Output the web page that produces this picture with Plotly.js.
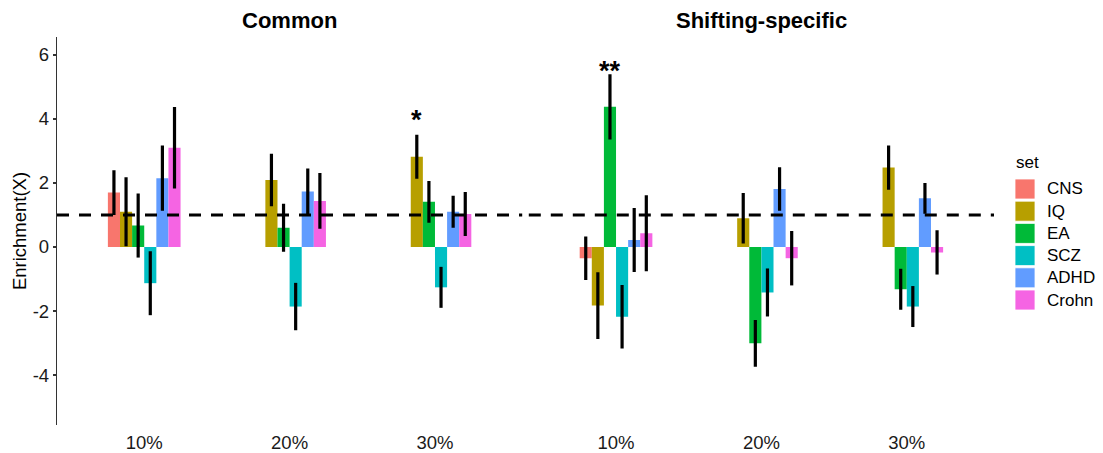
<!DOCTYPE html>
<html>
<head>
<meta charset="utf-8">
<script src="https://cdn.plot.ly/plotly-3.0.1.min.js"></script>
<style>html,body{margin:0;padding:0;background:#fff;}#chart{width:1103px;height:453px;}</style>
</head>
<body>
<div id="chart"></div>
<script>
const categories = ['10%', '20%', '30%'];
const panels = ['Common', 'Shifting-specific'];
const sets = ['CNS', 'IQ', 'EA', 'SCZ', 'ADHD', 'Crohn'];
const setColors = ['#F8766D', '#B79F00', '#00BA38', '#00BFC4', '#619CFF', '#F564E3'];

// values in order: Common 10/20/30%, Shifting-specific 10/20/30%
const CNS = [1.70, null, 0, -0.35, 0, null];
const CNS_err = [0.70, null, 0, 0.68, 0, null];
const IQ = [1.10, 2.09, 2.82, -1.83, 0.90, 2.48];
const IQ_err = [1.08, 0.82, 0.69, 1.04, 0.79, 0.69];
const EA = [0.67, 0.60, 1.41, 4.38, -3.01, -1.32];
const EA_err = [1.00, 0.75, 0.65, 1.02, 0.73, 0.64];
const SCZ = [-1.13, -1.86, -1.26, -2.18, -1.42, -1.86];
const SCZ_err = [1.00, 0.74, 0.64, 0.99, 0.75, 0.64];
const ADHD = [2.15, 1.73, 1.10, 0.22, 1.81, 1.52];
const ADHD_err = [1.02, 0.72, 0.50, 1.00, 0.68, 0.48];
const Crohn = [3.10, 1.44, 1.03, 0.43, -0.35, -0.17];
const Crohn_err = [1.27, 0.87, 0.69, 1.19, 0.85, 0.69];

const refLine = 1;
// significance labels: panel, category, set, label, y
const sigPanel = ['Common', 'Shifting-specific'];
const sigCat = ['30%', '10%'];
const sigSet = ['IQ', 'EA'];
const sigText = ['*', '**'];
const sigY = [4.17, 5.68];

const yTicks = [-4, -2, 0, 2, 4, 6];

const values = {CNS, IQ, EA, SCZ, ADHD, Crohn};
const errors = {CNS: CNS_err, IQ: IQ_err, EA: EA_err, SCZ: SCZ_err, ADHD: ADHD_err, Crohn: Crohn_err};

const FONT = 'Liberation Sans, Arial, sans-serif';
const bargap = 0.5;

const traces = [];
panels.forEach((p, pi) => {
  sets.forEach((s, si) => {
    traces.push({
      type: 'bar',
      name: s,
      x: categories,
      y: values[s].slice(pi * 3, pi * 3 + 3),
      marker: {color: setColors[si], line: {width: 0}},
      error_y: {type: 'data', array: errors[s].slice(pi * 3, pi * 3 + 3), color: '#000', thickness: 3.2, width: 0, visible: true},
      xaxis: pi === 0 ? 'x' : 'x2',
      yaxis: 'y',
      showlegend: false,
      hoverinfo: 'x+y+name'
    });
  });
});

// layout geometry (pixels)
const W = 1103, H = 453;
const mL = 57, mR = 109, mT = 37, mB = 28;
const pw = W - mL - mR, ph = H - mT - mB;
const px = v => (v - mL) / pw;
const py = v => 1 - (v - mT) / ph;

const shapes = [];
const annotations = [];

// reference dashed line in each panel
['x', 'x2'].forEach(ax => {
  shapes.push({type: 'line', xref: ax + ' domain', yref: 'y', x0: 0, x1: 1, y0: refLine, y1: refLine,
    line: {color: '#000', width: 3, dash: '12px,10px'}, layer: 'above'});
});

// panel titles
panels.forEach((p, pi) => {
  annotations.push({text: '<b>' + p + '</b>', xref: (pi === 0 ? 'x' : 'x2') + ' domain', yref: 'paper',
    x: 0.5, y: 1, yshift: 17, yanchor: 'middle', xanchor: 'center', showarrow: false,
    font: {family: FONT, size: 22, color: '#000'}});
});

// significance stars
const slotW = (1 - bargap) / sets.length;
sigText.forEach((t, i) => {
  const pi = panels.indexOf(sigPanel[i]);
  const ci = categories.indexOf(sigCat[i]);
  const si = sets.indexOf(sigSet[i]);
  annotations.push({text: '<b>' + t + '</b>', xref: pi === 0 ? 'x' : 'x2', yref: 'y',
    x: ci - (1 - bargap) / 2 + slotW * (si + 0.5), y: sigY[i], yshift: -6,
    xanchor: 'center', yanchor: 'middle', showarrow: false,
    font: {family: FONT, size: 27, color: '#000'}});
});

// legend
annotations.push({text: 'set', xref: 'paper', yref: 'paper', x: px(1014), y: py(162), xanchor: 'left', yanchor: 'middle',
  showarrow: false, font: {family: FONT, size: 17, color: '#000'}});
sets.forEach((s, i) => {
  const cy = 189 + i * 22.2;
  shapes.push({type: 'rect', xref: 'paper', yref: 'paper', x0: px(1015), x1: px(1035), y0: py(cy - 10), y1: py(cy + 10),
    fillcolor: setColors[i], line: {width: 0.8, color: '#ffffff'}});
  annotations.push({text: s, xref: 'paper', yref: 'paper', x: px(1045), y: py(cy), xanchor: 'left', yanchor: 'middle',
    showarrow: false, font: {family: FONT, size: 17, color: '#000'}});
});

const xcommon = {
  type: 'category', categoryorder: 'array', categoryarray: categories,
  range: [-0.6, 2.6], showline: false, showgrid: false, zeroline: false, ticks: '',
  tickfont: {family: FONT, size: 18.5, color: '#1a1a1a'}, ticklabelstandoff: 4, fixedrange: true
};

const layout = {
  width: W, height: H,
  margin: {l: mL, r: mR, t: mT, b: mB, autoexpand: false},
  paper_bgcolor: '#fff', plot_bgcolor: '#fff',
  barmode: 'group', bargap: bargap, bargroupgap: 0,
  showlegend: false,
  xaxis: Object.assign({domain: [0, (522.2 - mL) / pw], anchor: 'y'}, xcommon),
  xaxis2: Object.assign({domain: [(528.8 - mL) / pw, 1], anchor: 'y'}, xcommon),
  yaxis: {
    range: [-5.56, 6.56], tickvals: yTicks, ticktext: yTicks.map(String),
    showline: true, linecolor: '#333', linewidth: 1.2, ticks: 'outside', ticklen: 3, tickcolor: '#333', tickwidth: 1.2,
    showgrid: false, zeroline: false, automargin: false,
    tickfont: {family: FONT, size: 18.5, color: '#1a1a1a'},
    title: {text: 'Enrichment(X)', font: {family: FONT, size: 18.5, color: '#000'}, standoff: 1}
  },
  shapes: shapes,
  annotations: annotations
};

Plotly.newPlot('chart', traces, layout, {displayModeBar: false, staticPlot: true});
</script>
</body>
</html>
